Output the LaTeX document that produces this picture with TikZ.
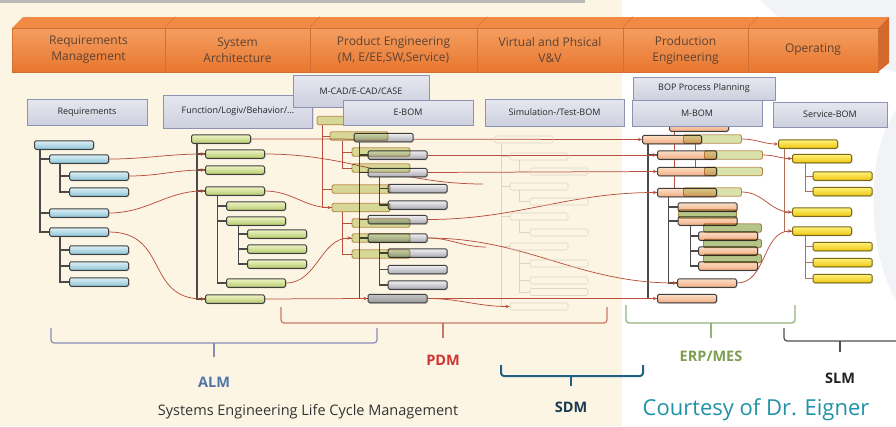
\documentclass[tikz,border=0pt]{standalone}
\usepackage{fontspec}
\setmainfont{Open Sans}
\usetikzlibrary{arrows.meta,shadows}

\definecolor{cream}{HTML}{FDF5E3}
\definecolor{swoosh}{HTML}{F1F3F7}
\definecolor{hdtop}{HTML}{F49E60}
\definecolor{hdbot}{HTML}{E8772F}
\definecolor{hdface}{HTML}{F18A45}
\definecolor{hdside}{HTML}{D4672A}
\definecolor{hdline}{HTML}{D26F33}
\definecolor{hdtext}{HTML}{5E4232}
\definecolor{boxtop}{HTML}{E6E7EF}
\definecolor{boxbot}{HTML}{CDD0DE}
\definecolor{boxline}{HTML}{8D92B3}
\definecolor{boxtext}{HTML}{262626}
\definecolor{barline}{HTML}{3F3F3F}
\definecolor{rqtop}{HTML}{DDF1F7}
\definecolor{rqbot}{HTML}{8EC4D7}
\definecolor{fntop}{HTML}{EFF5C6}
\definecolor{fnbot}{HTML}{B5CA6C}
\definecolor{ebtop}{HTML}{F1F1F3}
\definecolor{ebbot}{HTML}{A8A9B1}
\definecolor{mbtop}{HTML}{FCDFC8}
\definecolor{mbbot}{HTML}{F0AC82}
\definecolor{svtop}{HTML}{FFF27A}
\definecolor{svbot}{HTML}{EDC812}
\definecolor{svline}{HTML}{7A6818}
\definecolor{fadefill}{HTML}{D3DD9C}
\definecolor{fadedark}{HTML}{A9BA72}
\definecolor{fadeline}{HTML}{C8955E}
\definecolor{linkred}{HTML}{B9503D}
\definecolor{treecol}{HTML}{4A4A4A}
\definecolor{svtree}{HTML}{B46E58}
\definecolor{simline}{HTML}{DDD5C6}
\definecolor{almcol}{HTML}{8A8BBB}
\definecolor{almtext}{HTML}{4F76AA}
\definecolor{pdmcol}{HTML}{C97868}
\definecolor{pdmtext}{HTML}{D03333}
\definecolor{sdmcol}{HTML}{1F6182}
\definecolor{sdmtext}{HTML}{1A3B50}
\definecolor{erpcol}{HTML}{93B27C}
\definecolor{erptext}{HTML}{7E9E52}
\definecolor{slmcol}{HTML}{4F4F4F}
\definecolor{slmtext}{HTML}{222222}
\definecolor{titletext}{HTML}{333333}
\definecolor{courtesy}{HTML}{2092A8}

\pgfdeclarelayer{back}
\pgfdeclarelayer{wires}
\pgfsetlayers{back,wires,main}

\tikzset{
  phase/.style={rectangle, draw=hdline, line width=0.6pt, top color=hdtop, bottom color=hdbot,
    minimum height=44pt, inner sep=0pt, align=center, text=hdtext,
    font=\fontsize{12}{16}\selectfont},
  lbox/.style={rectangle, draw=boxline, line width=1pt, top color=boxtop, bottom color=boxbot,
    inner sep=0pt, text=boxtext, font=\fontsize{9}{10}\selectfont,
    drop shadow={shadow xshift=1pt, shadow yshift=-1pt, opacity=0.2}},
  bar/.style={rectangle, rounded corners=1.5pt, minimum width=59pt, minimum height=8.5pt,
    inner sep=0pt, draw=barline, line width=1pt,
    drop shadow={shadow xshift=1pt, shadow yshift=-1pt, opacity=0.25}},
  rqbar/.style={bar, top color=rqtop, bottom color=rqbot},
  fnbar/.style={bar, top color=fntop, bottom color=fnbot},
  ebbar/.style={bar, top color=ebtop, bottom color=ebbot},
  mbbar/.style={bar, top color=mbtop, bottom color=mbbot},
  svbar/.style={bar, draw=svline, top color=svtop, bottom color=svbot},
  fade/.style={rectangle, rounded corners=1.5pt, minimum width=58pt, minimum height=8.5pt,
    inner sep=0pt, draw=fadeline, line width=0.9pt, fill=fadefill, fill opacity=0.85},
  simbar/.style={rectangle, rounded corners=1.5pt, minimum width=58pt, minimum height=7pt,
    inner sep=0pt, draw=simline, line width=0.6pt},
  tree/.style={draw=treecol, line width=1.1pt},
  redtree/.style={draw=linkred, line width=0.7pt},
  simtree/.style={draw=simline, line width=0.6pt},
  svtreeline/.style={draw=svtree, line width=0.8pt},
  wire/.style={draw=linkred, line width=0.75pt},
  link/.style={wire, -{Stealth[length=4pt, width=3.5pt]}},
  brace/.style={line width=1.2pt, rounded corners=3pt},
  tag/.style={font=\bfseries\fontsize{14.5}{16}\selectfont, inner sep=0pt},
}

\begin{document}
\begin{tikzpicture}[x=1pt, y=-1pt]
\useasboundingbox (0,0) rectangle (896,426);

\begin{pgfonlayer}{back}
  \fill[white] (0,0) rectangle (896,426);
  \fill[cream] (0,0) rectangle (622,426);
  \fill[swoosh] (760,0) .. controls (800,40) and (850,62) .. (896,72) -- (896,0) -- cycle;
  \fill[swoosh] (896,110) .. controls (866,150) and (866,250) .. (896,300) -- cycle;
  \fill[gray!55] (0,0) rectangle (585,3);
\end{pgfonlayer}

% phases
\fill[hdface] (12,28) -- (23,17) -- (889,17) -- (878,28) -- cycle;
\fill[hdside] (878,28) -- (889,17) -- (889,63) -- (878,72) -- cycle;
\node[phase, minimum width=153pt] (ph1) at (88.5,50) {Requirements\\Management};
\node[phase, minimum width=145pt] (ph2) at (237.5,50) {System\\Architecture};
\node[phase, minimum width=167pt] (ph3) at (393.5,50) {Product Engineering\\(M, E/EE,SW,Service)};
\node[phase, minimum width=146pt] (ph4) at (550,50) {Virtual and Phsical\\V\&V};
\node[phase, minimum width=125pt] (ph5) at (685.5,50) {Production\\Engineering};
\node[phase, minimum width=130pt] (ph6) at (813,50) {Operating};
\draw[hdline] (ph2.north west) -- ++(10,-11);
\draw[hdline] (ph3.north west) -- ++(10,-11);
\draw[hdline] (ph4.north west) -- ++(10,-11);
\draw[hdline] (ph5.north west) -- ++(10,-11);
\draw[hdline] (ph6.north west) -- ++(10,-11);

% simulation tree (faint)
\node[simbar] (sb1) at (524,139.5) {};
\node[simbar] (sb2) at (539,156.5) {};
\node[simbar] (sb3) at (559,171.5) {};
\node[simbar] (sb4) at (539,186.5) {};
\node[simbar] (sb5) at (559,201.5) {};
\node[simbar] (sb6) at (539,216.5) {};
\node[simbar] (sb7) at (559,232.5) {};
\node[simbar] (sb8) at (539,246.5) {};
\node[simbar] (sb9) at (559,263.5) {};
\node[simbar] (sb10) at (559,280.5) {};
\node[simbar] (sb11) at (559,292) {};
\node[simbar] (sb12) at (539,306.5) {};

% requirements tree
\node[rqbar] (rq1) at (64,145) {};
\node[rqbar] (rq2) at (79,159) {};
\node[rqbar] (rq3) at (99,176) {};
\node[rqbar] (rq4) at (99,192) {};
\node[rqbar] (rq5) at (79,213) {};
\node[rqbar] (rq6) at (79,232) {};
\node[rqbar] (rq7) at (99,250) {};
\node[rqbar] (rq8) at (99,266) {};
\node[rqbar] (rq9) at (99,282) {};

% function tree
\node[fnbar] (fn1) at (221,139) {};
\node[fnbar] (fn2) at (235,154) {};
\node[fnbar] (fn3) at (235,170) {};
\node[fnbar] (fn4) at (235,191) {};
\node[fnbar] (fn5) at (256,206) {};
\node[fnbar] (fn6) at (256,221) {};
\node[fnbar] (fn7) at (277,234) {};
\node[fnbar] (fn8) at (277,249) {};
\node[fnbar] (fn9) at (277,264) {};
\node[fnbar] (fn10) at (256,283) {};
\node[fnbar] (fn11) at (235,299) {};

% e-bom tree
\node[ebbar] (eb1) at (383.5,137.5) {};
\node[ebbar] (eb2) at (397.5,155) {};
\node[ebbar] (eb3) at (397.5,172.5) {};
\node[ebbar] (eb4) at (417.5,188.5) {};
\node[ebbar] (eb5) at (417.5,205) {};
\node[ebbar] (eb6) at (397.5,219.5) {};
\node[ebbar] (eb7) at (397.5,238) {};
\node[ebbar] (eb8) at (417.5,253) {};
\node[ebbar] (eb9) at (417.5,269.5) {};
\node[ebbar] (eb10) at (417.5,285) {};
\node[ebbar, top color=gray!45, bottom color=gray!80] (eb11) at (397.5,298.5) {};

% function tree laid over the e-bom
\begin{scope}[blend mode=multiply]
\node[fade] (ef0) at (346,120.5) {};
\node[fade] (ef1) at (359,136) {};
\node[fade] (ef2) at (381,152) {};
\node[fade] (ef3) at (381,168) {};
\node[fade] (ef4) at (361,189) {};
\node[fade] (ef5) at (361,207.5) {};
\node[fade] (ef6) at (381,223) {};
\node[fade] (ef7) at (381,238) {};
\node[fade] (ef8) at (381,254) {};
\end{scope}

% m-bom tree
\node[mbbar] (mb0) at (699,127) {};
\node[mbbar] (mb1) at (672,139.5) {};
\node[mbbar] (mb2) at (687,155) {};
\node[mbbar] (mb3) at (687,171.5) {};
\node[mbbar] (mb4) at (687,192.5) {};
\node[mbbar] (mb5) at (707.5,207) {};
\node[mbbar] (mb6) at (707.5,221) {};
\node[mbbar] (mb7) at (728,236) {};
\node[mbbar] (mb8) at (728,251) {};
\node[mbbar] (mb9) at (728,266) {};
\node[mbbar] (mb10) at (707,283) {};
\node[mbbar] (mb11) at (687,298.5) {};
\begin{scope}[blend mode=multiply]
\node[fade] (mg1) at (712.5,139) {};
\node[fade] (mg2) at (733.5,155) {};
\node[fade] (mg3) at (733.5,171.5) {};
\node[fade] (mg4) at (712.5,192) {};
\node[fade, fill=fadedark] (mg5) at (707.5,214) {};
\node[fade, fill=fadedark] (mg6) at (732.5,228) {};
\node[fade, fill=fadedark] (mg7) at (732.5,243.5) {};
\node[fade, fill=fadedark] (mg8) at (732.5,258.5) {};
\end{scope}

% service-bom tree
\node[svbar] (sv1) at (808,144) {};
\node[svbar] (sv2) at (822,158.5) {};
\node[svbar] (sv3) at (842.5,176) {};
\node[svbar] (sv4) at (842.5,191.5) {};
\node[svbar] (sv5) at (822,212) {};
\node[svbar] (sv6) at (822,231) {};
\node[svbar] (sv7) at (842.5,246.5) {};
\node[svbar] (sv8) at (842.5,262.5) {};
\node[svbar] (sv9) at (842.5,278.5) {};

\coordinate (st1) at (483,184);
\coordinate (st2) at (486,247);

% bom labels
\node[lbox, minimum width=120pt, minimum height=26pt] (reqs) at (87,112) {Requirements};
\node[lbox, minimum width=149pt, minimum height=33pt] (func) at (238,111.5) {Function/Logiv/Behavior/...};
\node[lbox, minimum width=136pt, minimum height=32pt] (mcad) at (361,91) {M-CAD/E-CAD/CASE};
\node[lbox, minimum width=130pt, minimum height=25pt] (ebom) at (408,112.5) {E-BOM};
\node[lbox, minimum width=139pt, minimum height=27pt] (simbom) at (554.5,112.5) {Simulation-/Test-BOM};
\node[lbox, minimum width=142pt, minimum height=23pt] (bop) at (704,88.5) {BOP Process Planning};
\node[lbox, minimum width=130pt, minimum height=26pt] (mbom) at (697,113) {M-BOM};
\node[lbox, minimum width=114pt, minimum height=25pt] (sbom) at (830,114.5) {Service-BOM};

\begin{pgfonlayer}{wires}
  % trees
  \draw[tree] ([xshift=6pt]rq1.south west) |- (rq2.west);
  \draw[tree] ([xshift=6pt]rq1.south west) |- (rq5.west);
  \draw[tree] ([xshift=6pt]rq1.south west) |- (rq6.west);
  \draw[tree] ([xshift=11pt]rq2.south west) |- (rq3.west);
  \draw[tree] ([xshift=11pt]rq2.south west) |- (rq4.west);
  \draw[tree] ([xshift=11pt]rq6.south west) |- (rq7.west);
  \draw[tree] ([xshift=11pt]rq6.south west) |- (rq8.west);
  \draw[tree] ([xshift=11pt]rq6.south west) |- (rq9.west);

  \draw[tree] ([xshift=6pt]fn1.south west) |- (fn2.west);
  \draw[tree] ([xshift=6pt]fn1.south west) |- (fn3.west);
  \draw[tree] ([xshift=6pt]fn1.south west) |- (fn4.west);
  \draw[tree] ([xshift=6pt]fn1.south west) |- (fn11.west);
  \draw[tree] ([xshift=12.5pt]fn4.south west) |- (fn5.west);
  \draw[tree] ([xshift=12.5pt]fn4.south west) |- (fn6.west);
  \draw[tree] ([xshift=12.5pt]fn4.south west) |- (fn10.west);
  \draw[tree] ([xshift=12.5pt]fn6.south west) |- (fn7.west);
  \draw[tree] ([xshift=12.5pt]fn6.south west) |- (fn8.west);
  \draw[tree] ([xshift=12.5pt]fn6.south west) |- (fn9.west);

  \draw[tree] ([xshift=6pt]eb1.south west) |- (eb2.west);
  \draw[tree] ([xshift=6pt]eb1.south west) |- (eb3.west);
  \draw[tree] ([xshift=6pt]eb1.south west) |- (eb6.west);
  \draw[tree] ([xshift=6pt]eb1.south west) |- (eb7.west);
  \draw[tree] ([xshift=6pt]eb1.south west) |- (eb11.west);
  \draw[tree] ([xshift=12pt]eb3.south west) |- (eb4.west);
  \draw[tree] ([xshift=12pt]eb3.south west) |- (eb5.west);
  \draw[tree] ([xshift=12pt]eb7.south west) |- (eb8.west);
  \draw[tree] ([xshift=12pt]eb7.south west) |- (eb9.west);
  \draw[tree] ([xshift=12pt]eb7.south west) |- (eb10.west);

  \draw[redtree] ([xshift=6pt]ef0.south west) |- (ef1.west);
  \draw[redtree] ([xshift=6pt]ef0.south west) |- (ef4.west);
  \draw[redtree] ([xshift=6pt]ef0.south west) |- (ef5.west);
  \draw[redtree] ([xshift=13pt]ef1.south west) |- (ef2.west);
  \draw[redtree] ([xshift=13pt]ef1.south west) |- (ef3.west);
  \draw[redtree] ([xshift=11pt]ef5.south west) |- (ef6.west);
  \draw[redtree] ([xshift=11pt]ef5.south west) |- (ef7.west);
  \draw[redtree] ([xshift=11pt]ef5.south west) |- (ef8.west);

  \draw[simtree] ([xshift=7pt]sb1.south west) |- (sb2.west);
  \draw[simtree] ([xshift=7pt]sb1.south west) |- (sb4.west);
  \draw[simtree] ([xshift=7pt]sb1.south west) |- (sb6.west);
  \draw[simtree] ([xshift=7pt]sb1.south west) |- (sb8.west);
  \draw[simtree] ([xshift=7pt]sb1.south west) |- (sb12.west);
  \draw[simtree] ([xshift=10pt]sb2.south west) |- (sb3.west);
  \draw[simtree] ([xshift=10pt]sb4.south west) |- (sb5.west);
  \draw[simtree] ([xshift=10pt]sb6.south west) |- (sb7.west);
  \draw[simtree] ([xshift=10pt]sb8.south west) |- (sb9.west);
  \draw[simtree] ([xshift=10pt]sb8.south west) |- (sb10.west);
  \draw[simtree] ([xshift=10pt]sb8.south west) |- (sb11.west);

  \draw[tree] ([xshift=6pt]mb1.south west) |- (mb2.west);
  \draw[tree] ([xshift=6pt]mb1.south west) |- (mb3.west);
  \draw[tree] ([xshift=6pt]mb1.south west) |- (mb4.west);
  \draw[tree] ([xshift=6pt]mb1.south west) |- (mb11.west);
  \draw[tree] ([xshift=11.5pt]mb4.south west) |- (mb5.west);
  \draw[tree] ([xshift=11.5pt]mb4.south west) |- (mb6.west);
  \draw[tree] ([xshift=11.5pt]mb4.south west) |- (mb10.west);
  \draw[tree] ([xshift=13pt]mb6.south west) |- (mb7.west);
  \draw[tree] ([xshift=13pt]mb6.south west) |- (mb8.west);
  \draw[tree] ([xshift=13pt]mb6.south west) |- (mb9.west);
  \draw[redtree] ([xshift=5pt]mb0.south west) |- (mg1.west);
  \draw[redtree] ([xshift=5pt]mb0.south west) |- (mg4.west);
  \draw[redtree] ([xshift=12pt]mg1.south west) |- (mg2.west);
  \draw[redtree] ([xshift=12pt]mg1.south west) |- (mg3.west);

  \draw[svtreeline] ([xshift=6pt]sv1.south west) |- (sv2.west);
  \draw[svtreeline] ([xshift=6pt]sv1.south west) |- (sv5.west);
  \draw[svtreeline] ([xshift=6pt]sv1.south west) |- (sv6.west);
  \draw[svtreeline] ([xshift=13pt]sv2.south west) |- (sv3.west);
  \draw[svtreeline] ([xshift=13pt]sv2.south west) |- (sv4.west);
  \draw[svtreeline] ([xshift=13pt]sv6.south west) |- (sv7.west);
  \draw[svtreeline] ([xshift=13pt]sv6.south west) |- (sv8.west);
  \draw[svtreeline] ([xshift=13pt]sv6.south west) |- (sv9.west);

  % traces
  \path (rq2.east) edge[link, out=0, in=180] (fn2.west);
  \path (rq3.east) edge[link, out=0, in=180] (fn3.west);
  \path (rq5.east) edge[link, out=0, in=180] (fn4.west);
  \path (rq6.east) edge[link, out=0, in=180, looseness=1.3] (fn11.west);
  \path (fn1.east) edge[link] (mb1.west);
  \path (fn2.east) edge[wire, out=0, in=180] (st1);
  \path (fn4.east) edge[link, out=0, in=180] (ef5.west);
  \path (fn10.east) edge[link, out=0, in=180] (ef7.west);
  \path (fn11.east) edge[link] (eb11.west);
  \path (eb2.east) edge[link] (mb2.west);
  \path (eb3.east) edge[link] (mb3.west);
  \path (eb6.east) edge[link, out=0, in=180] (mb4.west);
  \path (eb7.east) edge[link, out=0, in=180] (mb10.west);
  \path (eb7.east) edge[wire, out=0, in=180] (st2);
  \path (eb11.east) edge[link] (mb11.west);
  \path (eb11.east) edge[link, out=0, in=180] (sb12.west);
  \path (mg1.east) edge[link, out=0, in=180] (sv1.west);
  \path (mg2.east) edge[link, out=0, in=180] (sv2.west);
  \path (mg4.east) edge[link, out=0, in=180] (sv5.west);
  \path (mb10.east) edge[link, out=0, in=180] (sv6.west);
\end{pgfonlayer}

% scopes of the tools
\draw[brace, draw=almcol] (51,328) -- (51,343) -- (377,343) -- (377,328);
\draw[brace, draw=almcol] (214,343) -- (214,357);
\draw[brace, draw=pdmcol] (281,307) -- (281,323) -- (607,323) -- (607,307);
\draw[brace, draw=pdmcol] (443,323) -- (443,338);
\draw[brace, draw=sdmcol, line width=2pt] (501,365) -- (501,376) -- (643,376) -- (643,365);
\draw[brace, draw=sdmcol, line width=2pt] (571,376) -- (571,386);
\draw[brace, draw=erpcol] (626,305) -- (626,323) -- (795,323) -- (795,305);
\draw[brace, draw=erpcol] (711,323) -- (711,338);
\draw[brace, draw=slmcol] (784,328) -- (784,341) -- (905,341);
\draw[brace, draw=slmcol] (840,341) -- (840,352);

\node[tag, text=almtext] (alm) at (214,382) {ALM};
\node[tag, text=pdmtext] (pdm) at (443,360) {PDM};
\node[tag, text=sdmtext] (sdm) at (571,407) {SDM};
\node[tag, text=erptext] (erp) at (711,356) {ERP/MES};
\node[tag, text=slmtext] (slm) at (840,378) {SLM};
\node[text=titletext, font=\fontsize{14.5}{16}\selectfont] (title) at (308,412) {Systems Engineering Life Cycle Management};
\node[text=courtesy, font=\fontsize{22}{24}\selectfont] (credit) at (756,410) {Courtesy of Dr. Eigner};
\end{tikzpicture}
\end{document}
